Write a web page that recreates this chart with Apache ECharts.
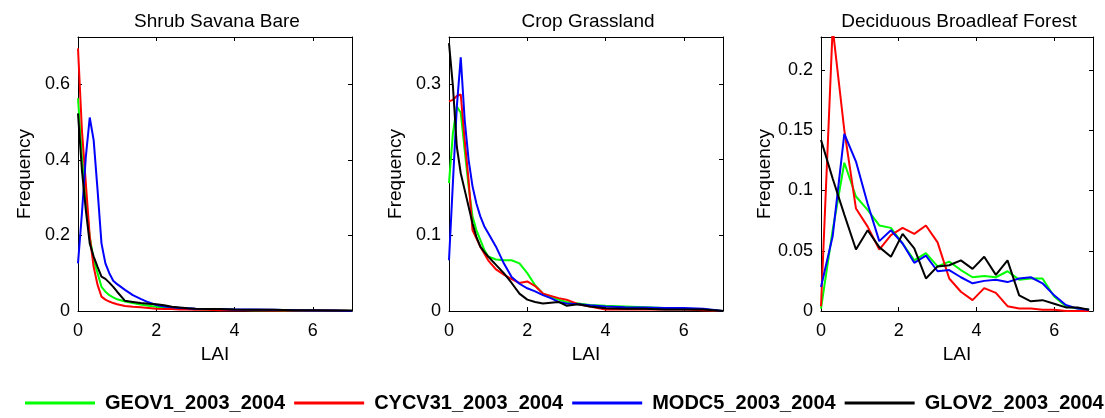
<!DOCTYPE html>
<html>
<head>
<meta charset="utf-8">
<script src="https://cdn.jsdelivr.net/npm/echarts@6/dist/echarts.min.js"></script>
<style>
html,body{margin:0;padding:0;background:#ffffff;}
#chart{width:1105px;height:418px;}
</style>
</head>
<body>
<div id="chart"></div>
<script>
// ---------------- data ----------------
const panelTitles = ['Shrub Savana Bare', 'Crop Grassland', 'Deciduous Broadleaf Forest'];
const seriesNames = ['GEOV1_2003_2004', 'CYCV31_2003_2004', 'MODC5_2003_2004', 'GLOV2_2003_2004'];
const xAxisName = 'LAI';
const yAxisName = 'Frequency';
const xTicks = [0, 2, 4, 6];

// LAI sample positions (panels 1 and 2)
const laiFine = [0,0.1,0.2,0.3,0.4,0.5,0.6,0.7,0.8,0.9,1.0,1.2,1.4,1.6,1.8,2.0,2.2,2.4,2.6,2.8,3.0,3.3,3.6,4.0,4.5,5.0,5.5,6.0,6.5,7.0];
// LAI sample positions (panel 3)
const laiCoarse = [0,0.3,0.6,0.9,1.2,1.5,1.8,2.1,2.4,2.7,3.0,3.3,3.6,3.9,4.2,4.5,4.8,5.1,5.4,5.7,6.0,6.3,6.6,6.9];

// Panel 1: Shrub Savana Bare
const shrubGEOV1 = [0.563,0.408,0.298,0.197,0.135,0.100,0.064,0.051,0.042,0.036,0.031,0.025,0.021,0.017,0.014,0.011,0.009,0.008,0.007,0.006,0.005,0.004,0.004,0.003,0.002,0.002,0.001,0.001,0.001,0];
const shrubCYCV31 = [0.695,0.479,0.338,0.197,0.117,0.069,0.038,0.030,0.025,0.021,0.018,0.013,0.011,0.010,0.008,0.006,0.005,0.005,0.004,0.004,0.003,0.003,0.002,0.002,0.002,0.001,0.001,0.001,0.001,0];
const shrubMODC5 = [0.126,0.258,0.408,0.512,0.452,0.320,0.179,0.126,0.100,0.080,0.071,0.056,0.042,0.032,0.023,0.016,0.012,0.010,0.008,0.007,0.006,0.005,0.005,0.004,0.004,0.003,0.002,0.001,0.001,0];
const shrubGLOV2 = [0.523,0.373,0.267,0.179,0.144,0.117,0.091,0.085,0.075,0.064,0.051,0.027,0.024,0.021,0.019,0.018,0.015,0.011,0.009,0.007,0.006,0.005,0.005,0.004,0.003,0.003,0.002,0.002,0.001,0.001];

// Panel 2: Crop Grassland
const cropGEOV1 = [0.169,0.235,0.270,0.262,0.213,0.165,0.125,0.107,0.094,0.081,0.072,0.068,0.067,0.067,0.063,0.050,0.034,0.023,0.019,0.015,0.012,0.010,0.008,0.007,0.006,0.005,0.004,0.003,0.002,0];
const cropCYCV31 = [0.277,0.279,0.284,0.286,0.226,0.173,0.107,0.096,0.085,0.076,0.067,0.055,0.048,0.042,0.037,0.039,0.033,0.023,0.020,0.017,0.015,0.009,0.006,0.002,0.002,0.002,0.002,0.002,0.001,0];
const cropMODC5 = [0.067,0.170,0.270,0.335,0.253,0.200,0.165,0.142,0.125,0.112,0.103,0.085,0.063,0.045,0.036,0.030,0.026,0.021,0.017,0.012,0.010,0.009,0.0075,0.006,0.005,0.0045,0.004,0.004,0.003,0];
const cropGLOV2 = [0.354,0.297,0.217,0.182,0.160,0.138,0.116,0.098,0.085,0.078,0.072,0.061,0.050,0.037,0.023,0.015,0.012,0.010,0.011,0.012,0.007,0.009,0.006,0.0035,0.003,0.003,0.002,0.002,0.002,0];

// Panel 3: Deciduous Broadleaf Forest
const dbfGEOV1 = [0.002,0.067,0.123,0.095,0.084,0.071,0.069,0.056,0.042,0.048,0.037,0.041,0.034,0.028,0.029,0.028,0.033,0.026,0.027,0.027,0.012,0.004,0.002,0.001];
const dbfCYCV31 = [0.004,0.235,0.150,0.085,0.070,0.051,0.063,0.069,0.064,0.071,0.057,0.027,0.016,0.009,0.019,0.015,0.004,0.002,0.002,0.001,0.001,0,0,0];
const dbfMODC5 = [0.020,0.062,0.147,0.124,0.089,0.058,0.067,0.056,0.040,0.046,0.033,0.034,0.028,0.023,0.025,0.026,0.024,0.027,0.028,0.023,0.013,0.005,0.002,0.001];
const dbfGLOV2 = [0.142,0.110,0.080,0.051,0.067,0.053,0.045,0.064,0.052,0.027,0.037,0.038,0.042,0.035,0.045,0.030,0.042,0.013,0.008,0.009,0.006,0.003,0.003,0.001];

const yMax = [0.725, 0.362, 0.2274];
const yInterval = [0.2, 0.1, 0.05];

// ---------------- build ----------------
const panels = [
  {x: laiFine, ys: [shrubGEOV1, shrubCYCV31, shrubMODC5, shrubGLOV2]},
  {x: laiFine, ys: [cropGEOV1, cropCYCV31, cropMODC5, cropGLOV2]},
  {x: laiCoarse, ys: [dbfGEOV1, dbfCYCV31, dbfMODC5, dbfGLOV2]}
];
const colors = ['#00ff00', '#ff0000', '#0000ff', '#000000'];
const gridBoxes = [
  {left: 78, top: 37, width: 274, height: 274},
  {left: 449, top: 37, width: 274, height: 274},
  {left: 821, top: 37, width: 272, height: 274}
];
const FONT = 'Liberation Sans, Arial, Helvetica, sans-serif';
const lineCol = '#000000';

const grid = [], xAxis = [], yAxis = [], series = [], title = [];
panels.forEach((p, i) => {
  const g = gridBoxes[i];
  grid.push(Object.assign({containLabel: false, show: false}, g));
  title.push({
    text: panelTitles[i], left: g.left + g.width / 2 - 3, top: 7, textAlign: 'center',
    textStyle: {fontSize: 19, fontWeight: 'normal', color: '#000', fontFamily: FONT}
  });
  const baseX = {
    type: 'value', gridIndex: i, min: 0, max: 7, interval: 2,
    axisLine: {show: true, onZero: false, lineStyle: {color: lineCol, width: 1}},
    axisTick: {show: true, inside: true, length: 4, lineStyle: {color: lineCol}},
    splitLine: {show: false}
  };
  xAxis.push(Object.assign({}, baseX, {
    position: 'bottom',
    axisLabel: {fontSize: 18, color: '#000', margin: 11, showMaxLabel: false, fontFamily: FONT,
      formatter: v => (xTicks.indexOf(v) >= 0 ? String(v) : '')},
    name: xAxisName, nameLocation: 'middle', nameGap: 33,
    nameTextStyle: {fontSize: 19, color: '#000', fontFamily: FONT}
  }));
  xAxis.push(Object.assign({}, baseX, {position: 'top', axisLabel: {show: false}}));
  const baseY = {
    type: 'value', gridIndex: i, min: 0, max: yMax[i], interval: yInterval[i],
    axisLine: {show: true, onZero: false, lineStyle: {color: lineCol, width: 1}},
    axisTick: {show: true, inside: true, length: 4, lineStyle: {color: lineCol}},
    splitLine: {show: false}
  };
  yAxis.push(Object.assign({}, baseY, {
    position: 'left',
    axisLabel: {fontSize: 18, color: '#000', margin: 8, showMaxLabel: false, fontFamily: FONT},
    name: yAxisName, nameLocation: 'middle', nameGap: 44,
    nameTextStyle: {fontSize: 19, color: '#000', fontFamily: FONT}
  }));
  yAxis.push(Object.assign({}, baseY, {position: 'right', axisLabel: {show: false}}));

  p.ys.forEach((vals, s) => {
    series.push({
      type: 'line', name: seriesNames[s],
      xAxisIndex: 2 * i, yAxisIndex: 2 * i,
      data: p.x.map((x, k) => [x, vals[k]]),
      symbol: 'none', showSymbol: false, clip: true,
      lineStyle: {color: colors[s], width: 2},
      itemStyle: {color: colors[s]},
      z: 2 + s
    });
  });
});

const chart = echarts.init(document.getElementById('chart'), null, {renderer: 'canvas'});
chart.setOption({
  animation: false,
  backgroundColor: '#ffffff',
  textStyle: {fontFamily: FONT},
  title: title,
  grid: grid,
  xAxis: xAxis,
  yAxis: yAxis,
  legend: {
    data: seriesNames, left: 25, top: 393, width: 1400, orient: 'horizontal', padding: 0,
    icon: 'rect', itemWidth: 70, itemHeight: 3, itemGap: 9,
    textStyle: {fontSize: 20, fontWeight: 'bold', color: '#000', fontFamily: FONT, padding: [0, 0, 0, 5]}
  },
  series: series
});
</script>
</body>
</html>
